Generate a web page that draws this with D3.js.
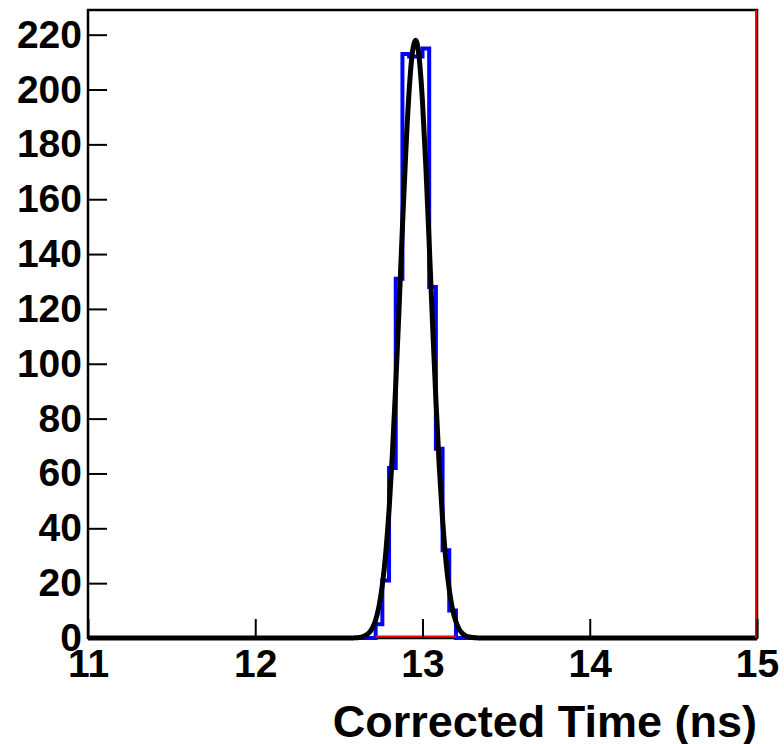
<!DOCTYPE html>
<html><head><meta charset="utf-8">
<script src="https://cdn.jsdelivr.net/npm/d3@7"></script>
<style>
body{margin:0;background:#fff}
svg{display:block}
text{font-family:"Liberation Sans",Arial,Helvetica,sans-serif;font-weight:bold;fill:#000}
</style>
</head><body>
<script>
// ---------- data ----------
const xRange = [11, 15];
const yRange = [0, 229];
const xMajorTicks = [11, 12, 13, 14, 15];
const yMajorTicks = [0, 20, 40, 60, 80, 100, 120, 140, 160, 180, 200, 220];
const xTitle = "Corrected Time (ns)";

// histogram (bin width 0.04 ns, bins outside are empty)
const binWidth = 0.04;
const binLow = [12.72, 12.76, 12.80, 12.84, 12.88, 12.92, 12.96, 13.00, 13.04, 13.08, 13.12, 13.16];
const binCount = [5, 21, 62, 131, 213, 212, 212, 215, 128, 69, 32, 10];

// fitted curve
const fitX = [11.00, 12.56, 12.58, 12.60, 12.62, 12.64, 12.66, 12.68, 12.70, 12.72, 12.74, 12.76, 12.78, 12.80,
  12.82, 12.84, 12.86, 12.88, 12.90, 12.92, 12.94, 12.96, 12.98, 13.00, 13.02, 13.04, 13.06, 13.08,
  13.10, 13.12, 13.14, 13.16, 13.18, 13.20, 13.22, 13.24, 13.26, 13.28, 13.30, 13.32, 13.34, 13.36, 15.00];
const fitY = [0, 0, 0.03, 0.08, 0.19, 0.43, 0.91, 1.85, 3.6, 6.6, 11.6, 19.4, 30.8, 46.7,
  67.3, 92.3, 120.5, 149.8, 177.1, 199.4, 213.7, 218.0, 211.6, 195.5, 172.0, 143.9, 114.7, 87.0,
  62.8, 43.2, 28.2, 17.6, 10.4, 5.9, 3.15, 1.6, 0.78, 0.36, 0.16, 0.07, 0.03, 0.01, 0];

// red marks
const redBaseRange = [12.72, 13.20];
const redEdgeX = 15;

// ---------- drawing ----------
const W = 784, H = 744;
const svg = d3.select("body").append("svg").attr("width", W).attr("height", H);
const x = d3.scaleLinear().domain(xRange).range([88, 757]);
const y = d3.scaleLinear().domain(yRange).range([638, 10]);

// frame
svg.append("rect").attr("x", x(xRange[0])).attr("y", y(yRange[1]))
  .attr("width", x(xRange[1]) - x(xRange[0])).attr("height", y(0) - y(yRange[1]))
  .attr("fill", "none").attr("stroke", "#000").attr("stroke-width", 2.5);

// histogram outline
const histPts = [[xRange[0], 0], [binLow[0], 0]];
binLow.forEach((lo, i) => {
  histPts.push([lo, binCount[i]]);
  histPts.push([lo + binWidth, binCount[i]]);
});
histPts.push([binLow[binLow.length - 1] + binWidth, 0]);
histPts.push([xRange[1], 0]);
svg.append("path")
  .attr("d", d3.line().x(d => x(d[0])).y(d => y(d[1]))(histPts))
  .attr("fill", "none").attr("stroke", "#0000ff").attr("stroke-width", 4)
  .attr("stroke-linejoin", "miter");

// fit curve
svg.append("path")
  .attr("d", d3.line().x((d, i) => x(fitX[i])).y((d, i) => y(fitY[i])).curve(d3.curveMonotoneX)(fitX))
  .attr("fill", "none").attr("stroke", "#000").attr("stroke-width", 5)
  .attr("stroke-linejoin", "round");

// red lines
svg.append("line").attr("x1", x(redBaseRange[0])).attr("x2", x(redBaseRange[1]))
  .attr("y1", y(0) - 1.5).attr("y2", y(0) - 1.5).attr("stroke", "#ff0000").attr("stroke-width", 2);
svg.append("line").attr("x1", x(redEdgeX) - 1).attr("x2", x(redEdgeX) - 1)
  .attr("y1", y(yRange[1])).attr("y2", y(0)).attr("stroke", "#ff0000").attr("stroke-width", 2);

// axes
const xMinor = d3.range(0, 21).map(i => xRange[0] + i * 0.2).filter(v => !xMajorTicks.some(m => Math.abs(m - v) < 1e-6));
const yMinor = d3.range(0, 46).map(i => i * 5).filter(v => v <= yRange[1] && v % 20 !== 0);

const gx = svg.append("g").attr("transform", `translate(0,${y(0)})`);
gx.call(d3.axisBottom(x).tickValues(xMinor).tickSize(-9).tickFormat(""));
gx.call(d3.axisBottom(x).tickValues(xMajorTicks).tickSize(-19).tickPadding(11).tickFormat(d3.format("d")));
const gy = svg.append("g").attr("transform", `translate(${x(xRange[0])},0)`);
gy.call(d3.axisLeft(y).tickValues(yMinor).tickSize(-9).tickFormat(""));
gy.call(d3.axisLeft(y).tickValues(yMajorTicks).tickSize(-19).tickPadding(6).tickFormat(d3.format("d")));
svg.selectAll(".domain").remove();
svg.selectAll(".tick line").attr("stroke", "#000").attr("stroke-width", 2);
svg.selectAll(".tick text").attr("font-size", 39).attr("font-family", null).attr("fill", "#000");

svg.append("text").attr("x", 757).attr("y", 737).attr("text-anchor", "end")
  .attr("font-size", 45).text(xTitle);
</script>
</body></html>
